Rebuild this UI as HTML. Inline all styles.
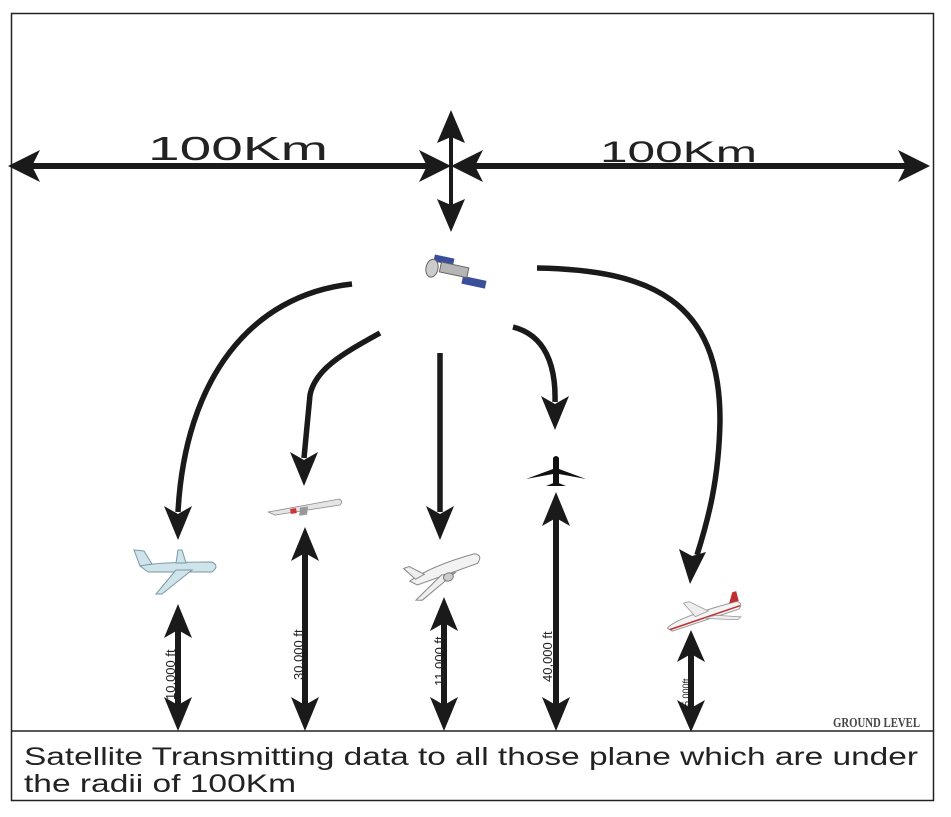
<!DOCTYPE html>
<html><head><meta charset="utf-8"><style>html,body{margin:0;padding:0;background:#fff}svg{display:block}</style></head>
<body>
<svg width="951" height="817" viewBox="0 0 951 817" xmlns="http://www.w3.org/2000/svg" font-family="Liberation Sans, sans-serif">
<rect x="11.5" y="13.5" width="922" height="787" fill="none" stroke="#222" stroke-width="1.5"/>
<line x1="12" y1="731" x2="933" y2="731" stroke="#222" stroke-width="1.5"/>
<g fill="#1a1a1a" stroke="none">
<rect x="30" y="163" width="400" height="6"/>
<rect x="470" y="163" width="440" height="6"/>
<path d="M8 166 L40 150 L32 166 L40 182 Z"/>
<path d="M451 166 L419 150 L427 166 L419 182 Z"/>
<path d="M451 166 L483 150 L475 166 L483 182 Z"/>
<path d="M930 166 L898 150 L906 166 L898 182 Z"/>
<rect x="449" y="130" width="4" height="85"/>
<path d="M451 110 L437 143 L451 137 L465 143 Z"/>
<path d="M451 232 L437 199 L451 205 L465 199 Z"/>
</g>
<text x="148" y="160" font-size="33" textLength="180" lengthAdjust="spacingAndGlyphs" fill="#222">100Km</text>
<text x="600" y="162" font-size="30" textLength="157" lengthAdjust="spacingAndGlyphs" fill="#222">100Km</text>

<g transform="translate(450,270) rotate(12)">
<rect x="-18" y="-12" width="20" height="7" fill="#3a4f9a"/>
<rect x="14" y="3" width="24" height="8" fill="#3a4f9a"/>
<rect x="-10" y="-6" width="28" height="10" fill="#b5b5b5" stroke="#666" stroke-width="1"/>
<ellipse cx="-18" cy="2" rx="6" ry="9" fill="#ccc" stroke="#666"/>
</g>

<g fill="none" stroke="#1a1a1a" stroke-width="5.5">
<path d="M352 284 C 250 295, 185 380, 178 512"/>
<path d="M380 333 C 340 355, 315 370, 310 395 L 304 458"/>
<path d="M440 353 L 440 512"/>
<path d="M513 327 C 545 335, 556 365, 555 402"/>
<path d="M537 268 C 650 270, 720 300, 720 420 C 719 480, 708 520, 697 555"/>
</g>
<g fill="#1a1a1a">
<path d="M178 540 L164 506 L178 514 L192 506 Z"/>
<path d="M304 486 L290 452 L304 460 L318 452 Z"/>
<path d="M440 540 L426 506 L440 514 L454 506 Z"/>
<path d="M555 430 L541 396 L555 404 L569 396 Z"/>
<path d="M690 584 L679 549 L692 556 L706 552 Z"/>
</g>

<g fill="#1a1a1a">
<rect x="175" y="628" width="6" height="80"/>
<path d="M178 604 L164 638 L178 630 L192 638 Z"/><path d="M178 731 L164 697 L178 705 L192 697 Z"/>
<rect x="302" y="550" width="6" height="158"/>
<path d="M305 527 L291 561 L305 553 L319 561 Z"/><path d="M305 731 L291 697 L305 705 L319 697 Z"/>
<rect x="441" y="620" width="6" height="88"/>
<path d="M444 597 L430 631 L444 623 L458 631 Z"/><path d="M444 731 L430 697 L444 705 L458 697 Z"/>
<rect x="553" y="515" width="6" height="193"/>
<path d="M556 492 L542 526 L556 518 L570 526 Z"/><path d="M556 731 L542 697 L556 705 L570 697 Z"/>
<rect x="688" y="652" width="6" height="58"/>
<path d="M691 630 L677 662 L691 654 L705 662 Z"/><path d="M691 732 L677 700 L691 708 L705 700 Z"/>
</g>
<g font-size="13" fill="#222">
<text transform="translate(175,700) rotate(-90)">10,000 ft</text>
<text transform="translate(303,680) rotate(-90)">30,000 ft</text>
<text transform="translate(444,686) rotate(-90)">11,000 ft</text>
<text transform="translate(552,682) rotate(-90)">40,000 ft</text>
<text transform="translate(689,706) rotate(-90)" font-size="9">5,000ft</text>
</g>

<g transform="translate(178,568)">
<path d="M-38 -2 Q-20 -6 34 -6 Q42 -2 34 4 L-30 4 Z" fill="#cfe3ea" stroke="#7a9aa5" stroke-width="1"/>
<path d="M-38 -2 L-44 -18 L-34 -17 L-26 -4 Z" fill="#cfe3ea" stroke="#7a9aa5" stroke-width="1"/>
<path d="M-2 2 L-22 26 L-16 26 L14 2 Z" fill="#cfe3ea" stroke="#7a9aa5" stroke-width="1"/>
<path d="M-2 -5 L0 -18 L4 -18 L8 -5 Z" fill="#cfe3ea" stroke="#7a9aa5" stroke-width="1"/>
</g>
<g transform="translate(304,507) rotate(-8)">
<path d="M-36 0 L36 -3 Q40 0 36 3 L-30 4 Z" fill="#e5e5e5" stroke="#888" stroke-width="0.8"/>
<rect x="-14" y="0" width="6" height="5" fill="#c33"/>
<path d="M-4 0 L-6 8 L2 8 L4 0 Z" fill="#999"/>
</g>
<g transform="translate(444,570) rotate(-18)">
<path d="M-36 0 Q-10 -8 34 -6 Q42 -2 34 4 L-30 6 Z" fill="#f2f2f2" stroke="#888" stroke-width="1"/>
<path d="M-4 4 L-36 20 L-30 22 L10 6 Z" fill="#eee" stroke="#888" stroke-width="1"/>
<path d="M-30 0 L-38 -14 L-32 -14 L-20 -2 Z" fill="#eee" stroke="#888" stroke-width="1"/>
<ellipse cx="2" cy="8" rx="5" ry="4" fill="#ccc" stroke="#777"/>
</g>
<g transform="translate(556,472)" fill="#111">
<path d="M-3 -14 Q0 -18 3 -14 L3 12 L-3 12 Z"/>
<path d="M-30 7 L-3 -3 L3 -3 L30 7 L3 2 L-3 2 Z"/>
<path d="M-10 14 L0 10 L10 14 Z"/>
</g>
<g transform="translate(705,614) rotate(-15)">
<path d="M-40 4 Q-30 -4 34 -4 Q40 0 34 4 L-36 8 Z" fill="#f4f4f4" stroke="#999" stroke-width="1"/>
<path d="M-38 6 L36 1" stroke="#c03030" stroke-width="1.5"/>
<path d="M-10 0 L-18 -16 L-12 -16 L4 -2 Z" fill="#eee" stroke="#999" stroke-width="0.8"/>
<path d="M-2 4 L30 14 L34 12 L10 4 Z" fill="#eee" stroke="#999" stroke-width="0.8"/>
<path d="M26 -4 L32 -14 L36 -14 L36 -4 Z" fill="#c03030"/>
</g>

<text x="833" y="727" font-family="Liberation Serif, serif" font-size="14" font-weight="bold" textLength="87" lengthAdjust="spacingAndGlyphs" fill="#444">GROUND LEVEL</text>
<text x="24" y="765" font-size="25" textLength="894" lengthAdjust="spacingAndGlyphs" fill="#222">Satellite Transmitting data to all those plane which are under</text>
<text x="24" y="792" font-size="25" textLength="272" lengthAdjust="spacingAndGlyphs" fill="#222">the radii of 100Km</text>
</svg>
</body></html>
